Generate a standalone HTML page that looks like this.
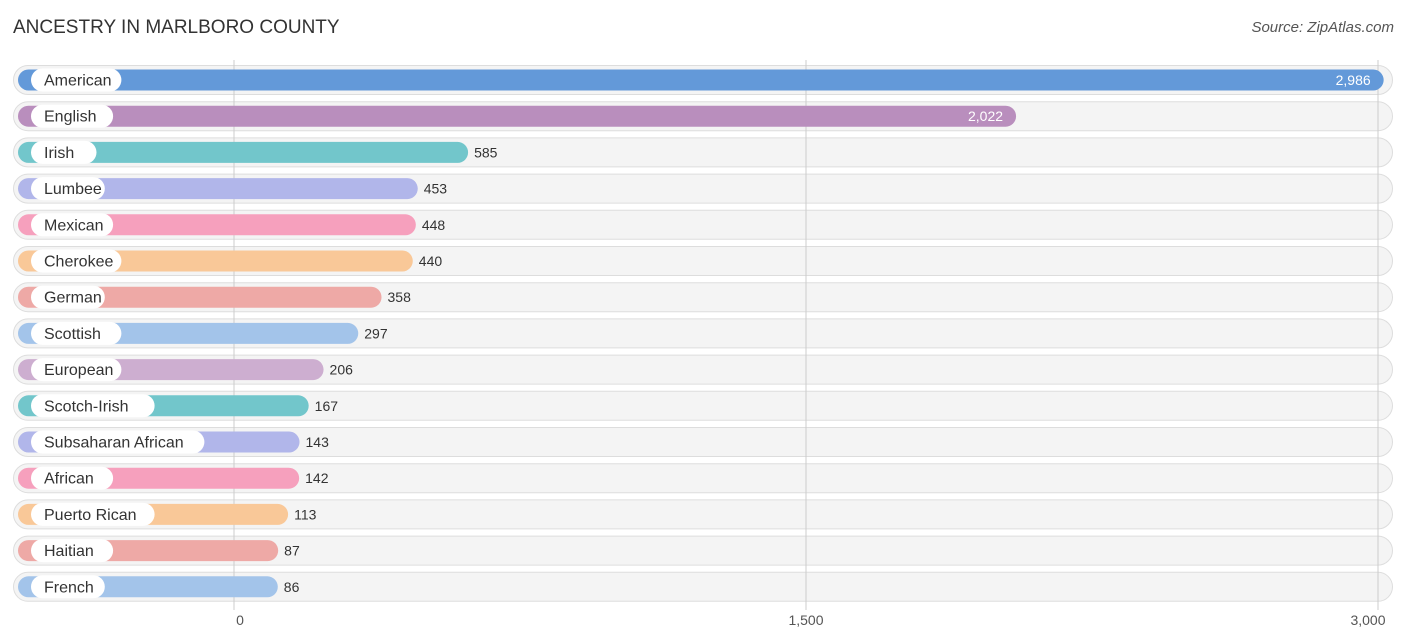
<!DOCTYPE html>
<html><head><meta charset="utf-8"><style>
body{margin:0;width:1406px;height:644px;background:#fff;font-family:"Liberation Sans",sans-serif;position:relative;overflow:hidden}
.t{position:absolute;left:13px;top:17px;font-size:19px;color:#333}
.s{position:absolute;right:12px;top:19px;font-size:15px;color:#555;font-style:italic}
</style></head><body>
<div class="t">ANCESTRY IN MARLBORO COUNTY</div>
<div class="s">Source: ZipAtlas.com</div>
<svg id="c" width="1406" height="644" style="position:absolute;left:0;top:0"></svg>
<script>
const categories=["American","English","Irish","Lumbee","Mexican","Cherokee","German","Scottish","European","Scotch-Irish","Subsaharan African","African","Puerto Rican","Haitian","French"];
const values=[2986,2022,585,453,448,440,358,297,206,167,143,142,113,87,86];
const colors=["#6399d9","#b98ebd","#72c6cb","#b1b6ea","#f6a0bd","#f9c898","#eea9a6","#a3c4ea","#cdaed0","#72c6cb","#b1b6ea","#f6a0bd","#f9c898","#eea9a6","#a3c4ea"];
const ticks=[0,1500,3000];
const tickLabels=["0","1,500","3,000"];
const NS="http://www.w3.org/2000/svg";
const svg=document.getElementById('c');
const x=v=>234+v*572/1500;
const y=i=>80+i*36.2;
function mk(t,a,p){const e=document.createElementNS(NS,t);for(const k in a)e.setAttribute(k,a[k]);(p||svg).appendChild(e);return e;}
const gridG=mk('g',{});
ticks.forEach((t,i)=>{
 const l=mk('line',{x1:x(t),x2:x(t),y1:60,y2:610,stroke:'#ccc','stroke-width':1},gridG);
 
 
 const tx=mk('text',{x:x(t)-(i==2?10:(i==0?-6:0)),y:625,'text-anchor':'middle','font-size':14,fill:'#555'});
 tx.textContent=tickLabels[i];
 
 
});
categories.forEach((c,i)=>{
 const cy=y(i);
 const bg=mk('rect',{x:13.5,y:cy-14.5,width:1379,height:29,rx:14.5,fill:'#f4f4f4',stroke:'#ddd','stroke-width':1});
 
 
 svg.insertBefore(bg,gridG);
 const xe=x(values[i])+11;
 const b=mk('rect',{x:18,y:cy-10.5,width:xe-18,height:21,rx:10.5,fill:colors[i]});
 
 
 const lw=c.length*8.3+24;
 const p=mk('rect',{x:31,y:cy-11.5,width:lw,height:23,rx:11.5,fill:'#fff'});
 
 
 const lt=mk('text',{x:44,y:cy+5.5,'font-size':16,fill:'#333'});
 lt.textContent=c;
 
 
 const inside=values[i]>1000;
 const vt=mk('text',{x:inside?xe-13:xe+6,y:cy+5,'font-size':14,fill:inside?'#fff':'#333','text-anchor':inside?'end':'start'});
 vt.textContent=values[i].toLocaleString('en-US');
 
 
});
</script>
</body></html>
